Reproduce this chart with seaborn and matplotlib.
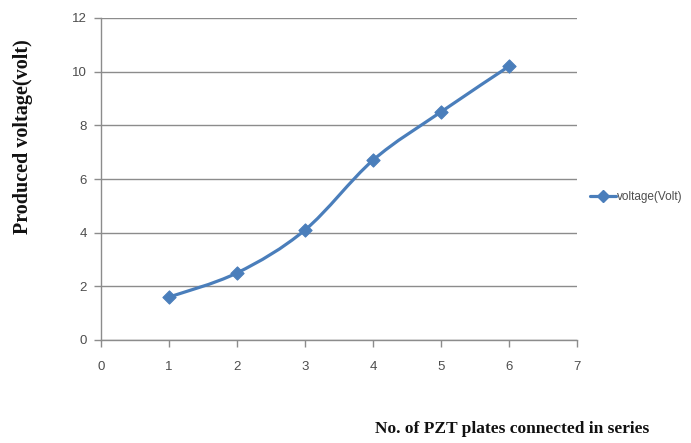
import numpy as np
import pandas as pd
import matplotlib
matplotlib.use("Agg")
import matplotlib.pyplot as plt
from matplotlib.path import Path
from matplotlib.patches import PathPatch
from matplotlib.lines import Line2D
import seaborn as sns

# Output voltage against number of PZT plates in series
plates = [1, 2, 3, 4, 5, 6]
voltage = [1.6, 2.5, 4.1, 6.7, 8.5, 10.2]
x_ticks = [0, 1, 2, 3, 4, 5, 6, 7]
y_ticks = [0, 2, 4, 6, 8, 10, 12]
series_name = "voltage(Volt)"

df = pd.DataFrame({"plates": plates, "voltage": voltage})

sns.set_theme(style="white")
plt.rcParams["font.family"] = ["Liberation Sans Narrow", "Liberation Sans", "DejaVu Sans"]

LINE = "#4A7EBB"
GRID = "#8C8C8C"
TICK_TXT = "#4D4D4D"
SERIF = ["Liberation Serif", "DejaVu Serif"]

fig = plt.figure(figsize=(6.91, 4.43), dpi=100)
ax = fig.add_axes([101 / 691, 1 - 340 / 443, 476 / 691, 322 / 443])

# smoothed connecting curve (cubic Bezier segments through the data points)
xs = np.asarray(df["plates"], float)
ys = np.asarray(df["voltage"], float)
verts = [(xs[0], ys[0])]
codes = [Path.MOVETO]
n = len(xs)
t = 1 / 6
for i in range(n - 1):
    p0 = np.array([xs[max(i - 1, 0)], ys[max(i - 1, 0)]])
    p1 = np.array([xs[i], ys[i]])
    p2 = np.array([xs[i + 1], ys[i + 1]])
    p3 = np.array([xs[min(i + 2, n - 1)], ys[min(i + 2, n - 1)]])
    c1 = p1 + (p2 - p0) * t
    c2 = p2 - (p3 - p1) * t
    verts += [tuple(c1), tuple(c2), tuple(p2)]
    codes += [Path.CURVE4] * 3
ax.add_patch(PathPatch(Path(verts, codes), facecolor="none", edgecolor=LINE,
                       lw=2.3, capstyle="round", joinstyle="round", zorder=3))

sns.scatterplot(data=df, x="plates", y="voltage", marker="D", s=45,
                color=LINE, edgecolor=LINE, linewidth=0.8, ax=ax, zorder=4,
                legend=False)

ax.set_xlim(0, 7)
ax.set_ylim(0, 12)
ax.set_xticks(x_ticks)
ax.set_yticks(y_ticks)
ax.set_xticklabels([str(v) for v in x_ticks])
ax.set_yticklabels([str(v) for v in y_ticks])
ax.yaxis.grid(True, color=GRID, lw=1.0)
ax.xaxis.grid(False)
ax.set_axisbelow(True)
for s in ("top", "right"):
    ax.spines[s].set_visible(False)
for s in ("left", "bottom"):
    ax.spines[s].set_color(GRID)
    ax.spines[s].set_linewidth(1.0)
ax.tick_params(axis="both", which="major", direction="out", length=5,
               width=1.0, color=GRID, labelsize=9.5, labelcolor=TICK_TXT,
               bottom=True, left=True)
ax.tick_params(axis="x", pad=10)
ax.tick_params(axis="y", pad=5)
ax.set_xlabel("")
ax.set_ylabel("")

fig.text(23 / 691, 1 - 137 / 443, "Produced voltage(volt)", rotation=90,
         ha="center", va="center", fontsize=14.5, fontweight="bold",
         family=SERIF, color="#111111")
fig.text(512 / 691, 1 - 429 / 443, "No. of PZT plates connected in series",
         ha="center", va="center", fontsize=12.5, fontweight="bold",
         family=SERIF, color="#111111")

handle = Line2D([], [], color=LINE, lw=2.3, marker="D", markersize=6.5)
fig.legend([handle], [series_name], loc="center left",
           bbox_to_anchor=(586 / 691, 1 - 197 / 443), frameon=False,
           handlelength=2.2, handletextpad=0.1, fontsize=8.5,
           labelcolor=TICK_TXT, borderaxespad=0, borderpad=0.3)

fig.savefig("out.png", dpi=100)
